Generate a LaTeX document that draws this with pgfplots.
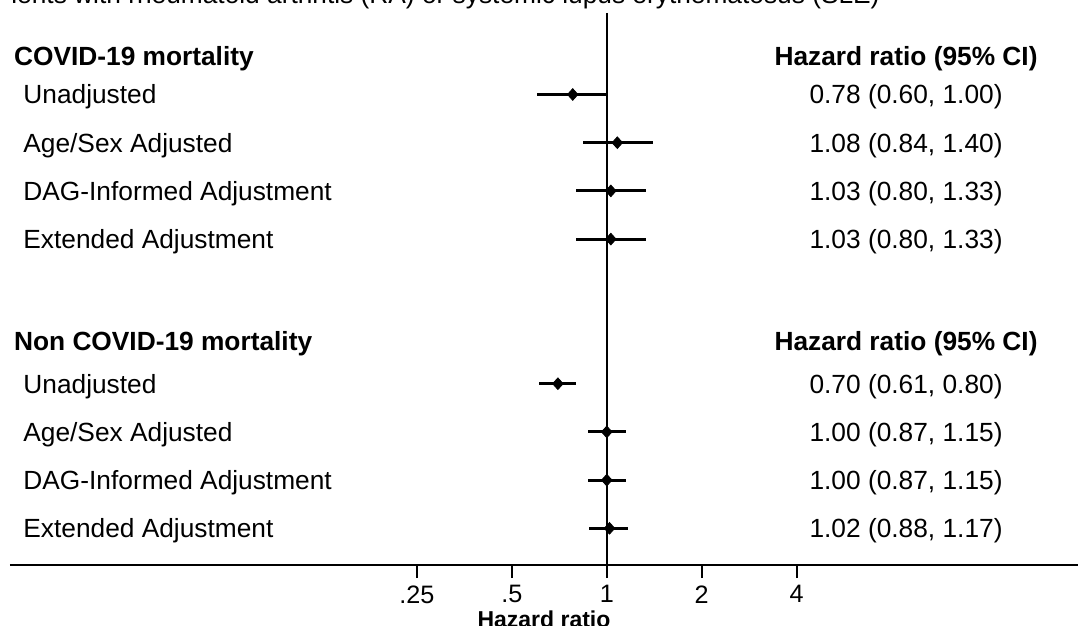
\documentclass[border=0pt]{standalone}
\usepackage{fontspec}
\setmainfont{Liberation Sans}
\usepackage{pgfplots}
\usepackage{pgfplotstable}
\pgfplotsset{compat=1.18}

% hazard ratios, 95% CI, row index (0 = first row, top)
\pgfplotstableread{
hr   lo   hi   row
0.78 0.60 1.00 0
1.08 0.84 1.40 1
1.03 0.80 1.33 2
1.03 0.80 1.33 3
0.70 0.61 0.80 6
1.00 0.87 1.15 7
1.00 0.87 1.15 8
1.02 0.88 1.17 9
}\hrdata

\begin{document}
\fontsize{13.15pt}{15.5pt}\selectfont
\begin{tikzpicture}
\path[use as bounding box] (0,0) rectangle (539pt,313pt);
\clip (0,0) rectangle (539pt,313pt);

\begin{axis}[
    at={(5pt,30.5pt)}, anchor=south west,
    scale only axis,
    width=534pt, height=276pt,
    xmode=log, log basis x=2,
    xmin=0.01284, xmax=31.15,
    ymin=-1.691, ymax=9.761,
    y dir=reverse,
    axis x line=bottom, axis y line=none,
    axis line style={line width=1.3pt, -},
    xtick={0.25,0.5,1,2,4},
    xticklabels={.25,.5,1,2,4},
    minor xtick={},
    tick align=outside,
    major tick length=6.5pt,
    xtick style={line width=1pt, black},
    xticklabel style={font=\fontsize{12.6pt}{14pt}\selectfont, yshift=0.8pt},
    /pgf/number format/assume math mode=true,
    xlabel={Hazard ratio},
    xlabel style={font=\bfseries\fontsize{11.5pt}{13pt}\selectfont, yshift=5.5pt},
    clip=false,
]

% reference line at HR = 1
\addplot[line width=1pt, black] coordinates {(1,-1.691) (1,9.761)};

% estimates with confidence intervals
\addplot[only marks, mark=diamond*, mark size=2.9pt, mark options={xscale=1.2}, black,
    error bars/.cd, x dir=both, x explicit, error mark=none,
    error bar style={line width=1.5pt}]
    table[x=hr, y=row,
          x error plus expr=\thisrow{hi}-\thisrow{hr},
          x error minus expr=\thisrow{hr}-\thisrow{lo}] {\hrdata};

% left column
\begin{scope}[every node/.style={inner sep=0pt, anchor=base west, yshift=-4.7pt}]
\node[font=\bfseries] at ({rel axis cs:0.00347,0}|-{axis cs:1,-0.788}) {COVID-19 mortality};
\node at ({rel axis cs:0.01217,0}|-{axis cs:1,0}) {Unadjusted};
\node at ({rel axis cs:0.01217,0}|-{axis cs:1,1}) {Age/Sex Adjusted};
\node at ({rel axis cs:0.01217,0}|-{axis cs:1,2}) {DAG-Informed Adjustment};
\node at ({rel axis cs:0.01217,0}|-{axis cs:1,3}) {Extended Adjustment};
\node[font=\bfseries] at ({rel axis cs:0.00347,0}|-{axis cs:1,5.124}) {Non COVID-19 mortality};
\node at ({rel axis cs:0.01217,0}|-{axis cs:1,6}) {Unadjusted};
\node at ({rel axis cs:0.01217,0}|-{axis cs:1,7}) {Age/Sex Adjusted};
\node at ({rel axis cs:0.01217,0}|-{axis cs:1,8}) {DAG-Informed Adjustment};
\node at ({rel axis cs:0.01217,0}|-{axis cs:1,9}) {Extended Adjustment};
\end{scope}

% right column
\begin{scope}[every node/.style={inner sep=0pt, anchor=base, yshift=-4.7pt}]
\node[font=\bfseries] at ({rel axis cs:0.839,0}|-{axis cs:1,-0.788}) {Hazard ratio (95\% CI)};
\node at ({rel axis cs:0.839,0}|-{axis cs:1,0}) {0.78 (0.60, 1.00)};
\node at ({rel axis cs:0.839,0}|-{axis cs:1,1}) {1.08 (0.84, 1.40)};
\node at ({rel axis cs:0.839,0}|-{axis cs:1,2}) {1.03 (0.80, 1.33)};
\node at ({rel axis cs:0.839,0}|-{axis cs:1,3}) {1.03 (0.80, 1.33)};
\node[font=\bfseries] at ({rel axis cs:0.839,0}|-{axis cs:1,5.124}) {Hazard ratio (95\% CI)};
\node at ({rel axis cs:0.839,0}|-{axis cs:1,6}) {0.70 (0.61, 0.80)};
\node at ({rel axis cs:0.839,0}|-{axis cs:1,7}) {1.00 (0.87, 1.15)};
\node at ({rel axis cs:0.839,0}|-{axis cs:1,8}) {1.00 (0.87, 1.15)};
\node at ({rel axis cs:0.839,0}|-{axis cs:1,9}) {1.02 (0.88, 1.17)};
\end{scope}
\end{axis}

% title, cut off by the top edge as in the source
\node[anchor=base east, inner sep=0pt] at (440pt,311pt)
    {ients with rheumatoid arthritis (RA) or systemic lupus erythematosus (SLE)};
\end{tikzpicture}
\end{document}
